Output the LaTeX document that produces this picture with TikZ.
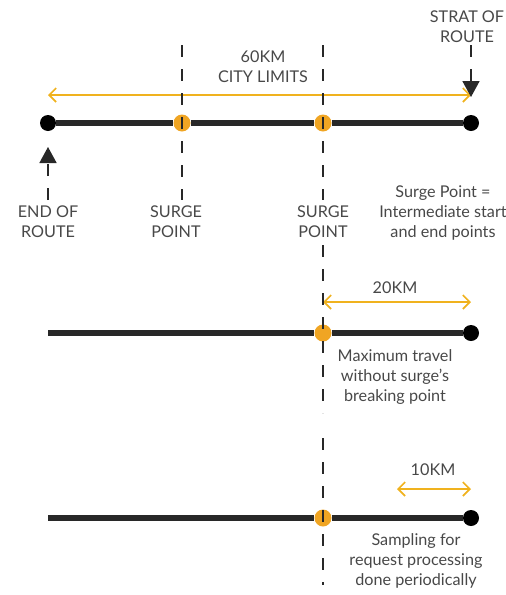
\documentclass[tikz,border=0pt]{standalone}
\usepackage{fontspec}
\setmainfont{Lato}
\usetikzlibrary{arrows.meta,positioning}
\definecolor{surgeorange}{RGB}{240,165,35}
\definecolor{spanyellow}{RGB}{240,178,30}
\definecolor{inkgray}{RGB}{40,40,40}
\tikzset{
  route/.style={line width=6pt, draw=inkgray},
  stopdot/.style={circle, fill=black, minimum size=16pt, inner sep=0pt},
  surgedot/.style={circle, fill=surgeorange, minimum size=17pt, inner sep=0pt},
  guide/.style={line width=1.6pt, draw=inkgray, dash pattern=on 12pt off 12pt},
  pointer/.style={guide, -{Triangle[length=16pt,width=17pt]}},
  span/.style={draw=spanyellow, line width=1.6pt,
    {Straight Barb[length=7pt,width=14pt]}-{Straight Barb[length=7pt,width=14pt]}},
  lbl/.style={font=\fontsize{16.2}{20}\selectfont, text=inkgray!85, align=center, inner sep=0pt},
}

\begin{document}
\begin{tikzpicture}[x=1pt, y=-1pt]
\useasboundingbox (0,0) rectangle (506,595);

% ===================== ROUTE 1 : WHOLE CITY =====================
\node[stopdot]  (end1)   at (48,123)  {};
\node[surgedot] (surgeA) at (182,123) {};
\node[surgedot] (surgeB) at (323,123) {};
\node[stopdot]  (start1) at (471,123) {};
\draw[route] (end1) -- (surgeA) -- (surgeB) -- (start1);

\coordinate (lim-l) at (48,95);
\coordinate (lim-r) at (471,95);
\draw[span] (lim-l) -- (lim-r);
\node[lbl] (limits) at (263,67) {60KM\\CITY LIMITS};

\node[lbl] (startlbl) at (467,27) {STRAT OF\\ROUTE};
\coordinate (start-tip) at (471,97);
\draw[pointer] (471,45) -- (start-tip);

\node[lbl] (endlbl) at (48,222) {END OF\\ROUTE};
\coordinate (end-tip) at (48,147);
\draw[pointer] (48,200) -- (end-tip);

\coordinate (gA-top) at (182,45);
\coordinate (gA-bot) at (182,200);
\coordinate (gB-top) at (323,45);
\coordinate (gB-bot) at (323,200);
\draw[guide] (gA-top) -- (gA-bot);
\draw[guide] (gB-top) -- (gB-bot);

\node[lbl] (surgeAlbl) at (176,222) {SURGE\\POINT};
\node[lbl] (surgeBlbl) at (323,222) {SURGE\\POINT};
\node[lbl] (legend) at (443,213) {Surge Point =\\Intermediate start\\and end points};

% ===================== ROUTE 2 : MAX TRAVEL =====================
\coordinate (end2) at (48,333);
\node[surgedot] (surgeC) at (323,333) {};
\node[stopdot]  (start2) at (471,333) {};
\draw[route] (end2) -- (surgeC) -- (start2);

\coordinate (max-l) at (323,302);
\coordinate (max-r) at (471,302);
\draw[span] (max-l) -- (max-r);
\node[lbl] (maxkm) at (395,288) {20KM};
\node[lbl] (maxlbl) at (395,377) {Maximum travel\\without surge's\\breaking point};

\coordinate (gC-top) at (323,245);
\coordinate (gC-bot) at (323,413);
\draw[guide] (gC-top) -- (gC-bot);

% ===================== ROUTE 3 : SAMPLING =====================
\coordinate (end3) at (48,518);
\node[surgedot] (surgeD) at (323,518) {};
\node[stopdot]  (start3) at (471,518) {};
\draw[route] (end3) -- (surgeD) -- (start3);

\coordinate (smp-l) at (397,489);
\coordinate (smp-r) at (471,489);
\draw[span] (smp-l) -- (smp-r);
\node[lbl] (smpkm) at (433,470) {10KM};
\node[lbl] (smplbl) at (416,561) {Sampling for\\request processing\\done periodically};

\coordinate (gD-top) at (323,438);
\coordinate (gD-bot) at (323,585);
\draw[guide] (gD-top) -- (gD-bot);

\end{tikzpicture}
\end{document}
